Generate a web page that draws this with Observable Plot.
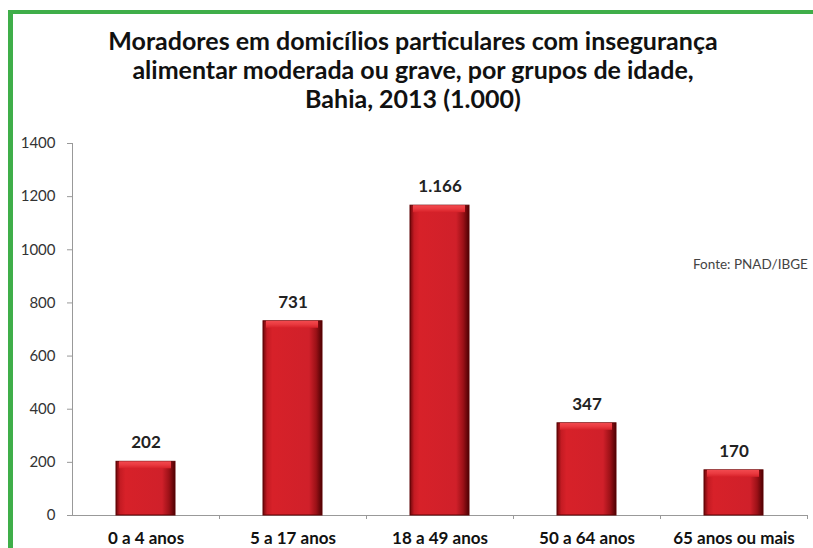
<!DOCTYPE html>
<html>
<head>
<meta charset="utf-8">
<script src="https://cdn.jsdelivr.net/npm/d3@7"></script>
<script src="https://cdn.jsdelivr.net/npm/@observablehq/plot@0.6"></script>
<style>
  html, body { margin: 0; padding: 0; background: #fff; }
  #wrap { position: relative; width: 813px; height: 548px; overflow: hidden; background: #fff; font-family: Lato, "Open Sans", sans-serif; }
  #frame { position: absolute; left: 8px; top: 10px; width: 820px; height: 560px; border-top: 4px solid #3fae49; border-left: 5px solid #3fae49; box-sizing: border-box; pointer-events: none; }
  #title { position: absolute; left: 0; width: 826px; top: 26px; text-align: center; font-weight: 700; font-size: 25px; line-height: 29px; color: #111; }
  #source { position: absolute; left: 693px; top: 256px; font-size: 13.5px; color: #444; }
  #chart { position: absolute; left: 0; top: 0; }
</style>
</head>
<body>
<div id="wrap">
  <div id="chart"></div>
  <div id="title">Moradores em domicílios particulares com insegurança<br>alimentar moderada ou grave, por grupos de idade,<br>Bahia, 2013 (1.000)</div>
  <div id="source">Fonte: PNAD/IBGE</div>
  <div id="frame"></div>
</div>
<script>
const categories = ["0 a 4 anos", "5 a 17 anos", "18 a 49 anos", "50 a 64 anos", "65 anos ou mais"];
const values = [202, 731, 1166, 347, 170];
const yTicks = [0, 200, 400, 600, 800, 1000, 1200, 1400];

const data = categories.map((c, i) => ({group: c, value: values[i]}));
const ptBR = d3.formatLocale({decimal: ",", thousands: ".", grouping: [3], currency: ["R$", ""]});
const fmt = ptBR.format(",d");

const W = 813, H = 548, mL = 72, mR = 6;
const step = (W - mL - mR) / categories.length;

const plot = Plot.plot({
  width: W,
  height: H,
  marginLeft: mL,
  marginRight: mR,
  marginTop: 143,
  marginBottom: 33,
  style: {fontFamily: "Lato, 'Open Sans', sans-serif", background: "transparent", overflow: "visible"},
  x: {domain: categories, paddingInner: 0.6, paddingOuter: 0.3, label: null, axis: null},
  y: {domain: [0, 1400], ticks: yTicks, label: null, axis: null},
  marks: [
    Plot.axisY({ticks: yTicks, tickFormat: d3.format("d"), tickSize: 5, tickPadding: 12, fontSize: 15, color: "#333", stroke: "#999", label: null}),
    Plot.ruleX([0], {x: () => categories[0], dx: -step / 2, y1: 0, y2: 1400, stroke: "#999"}),
    Plot.ruleY([0], {stroke: "#999"}),
    Plot.ruleX(categories, {x: d => d, dx: step / 2, y1: 0, y2: -15, stroke: "#999"}),
    Plot.barY(data, {x: "group", y: "value", fill: "url(#barGrad)", stroke: "#5e0304", strokeWidth: 1}),
    Plot.barY(data, {x: "group", y1: "value", y2: "value", insetBottom: -7, insetLeft: 3, insetRight: 4, fill: "url(#topGrad)"}),
    Plot.text(data, {x: "group", y: "value", text: d => fmt(d.value), dy: -19, fontSize: 17, fontWeight: "bold", fill: "#222"}),
    Plot.text(categories, {x: d => d, y: 0, text: d => d, dy: 23, fontSize: 17, fontWeight: "bold", fill: "#111"})
  ]
});

const svg = d3.select(plot);
const defs = svg.insert("defs", ":first-child");
const g1 = defs.append("linearGradient").attr("id", "barGrad").attr("x1", 0).attr("x2", 1).attr("y1", 0).attr("y2", 0);
[[0, "#6e070a"], [0.07, "#c41b23"], [0.16, "#d72129"], [0.78, "#d0202a"], [0.9, "#9c1117"], [1, "#4e0103"]]
  .forEach(([o, c]) => g1.append("stop").attr("offset", o).attr("stop-color", c));
const g2 = defs.append("linearGradient").attr("id", "topGrad").attr("x1", 0).attr("x2", 0).attr("y1", 0).attr("y2", 1);
[[0, "#f24a4f"], [0.5, "#ea3a40"], [1, "#d72129"]]
  .forEach(([o, c]) => g2.append("stop").attr("offset", o).attr("stop-color", c));

document.getElementById("chart").appendChild(plot);
</script>
</body>
</html>
